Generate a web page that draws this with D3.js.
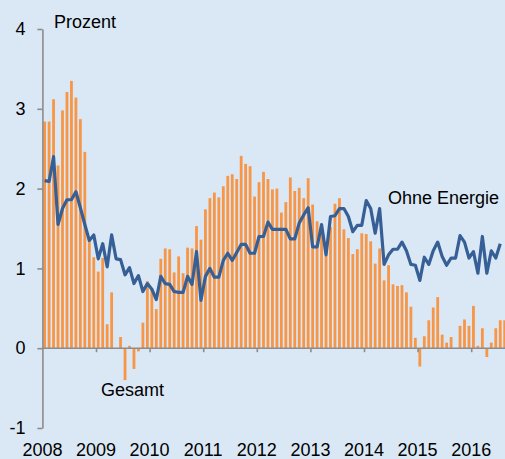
<!DOCTYPE html>
<html>
<head>
<meta charset="utf-8">
<script src="https://cdn.jsdelivr.net/npm/d3@7"></script>
<style>
  html, body { margin: 0; padding: 0; background: #dae8f5; }
  svg { display: block; font-family: "Liberation Sans", Arial, sans-serif; }
</style>
</head>
<body>
<svg id="chart" width="505" height="459"></svg>
<script>
// Monthly data, Jan 2008 onwards (year-on-year change, percent)
const startYear = 2008;
const gesamt = [
  2.84, 2.84, 3.12, 2.29, 2.98, 3.21, 3.35, 3.14, 2.87, 2.46, 1.39, 1.14,
  0.96, 1.13, 0.30, 0.70, 0.00, 0.14, -0.40, 0.03, -0.26, -0.04, 0.32, 0.84,
  0.75, 0.49, 1.12, 1.25, 1.24, 0.95, 1.15, 0.94, 1.26, 1.25, 1.53, 1.36,
  1.74, 1.88, 1.95, 1.89, 2.03, 2.16, 2.18, 2.12, 2.41, 2.31, 2.28, 1.90,
  2.08, 2.21, 2.12, 1.99, 2.00, 1.70, 1.83, 2.14, 1.97, 2.01, 1.88, 2.13,
  1.80, 1.59, 1.55, 1.16, 1.52, 1.81, 1.88, 1.49, 1.38, 1.18, 1.24, 1.44,
  1.43, 1.34, 1.06, 1.25, 0.85, 1.04, 0.80, 0.78, 0.79, 0.70, 0.52, 0.13,
  -0.23, 0.15, 0.35, 0.51, 0.64, 0.17, 0.07, 0.14, -0.01, 0.28, 0.36, 0.28,
  0.53, 0.03, 0.25, -0.11, 0.07, 0.25, 0.35, 0.35
];
const ohneEnergie = [
  2.10, 2.09, 2.40, 1.55, 1.75, 1.86, 1.86, 1.96, 1.76, 1.55, 1.35, 1.42,
  1.12, 1.31, 1.02, 1.42, 1.12, 1.11, 0.92, 1.01, 0.81, 0.91, 0.71, 0.81,
  0.74, 0.61, 0.90, 0.81, 0.80, 0.71, 0.70, 0.70, 0.90, 0.80, 1.21, 0.60,
  0.90, 1.00, 0.89, 0.89, 1.10, 1.19, 1.10, 1.20, 1.30, 1.30, 1.19, 1.19,
  1.40, 1.40, 1.58, 1.49, 1.49, 1.49, 1.49, 1.37, 1.37, 1.57, 1.67, 1.76,
  1.27, 1.27, 1.55, 1.17, 1.65, 1.66, 1.75, 1.75, 1.65, 1.46, 1.54, 1.54,
  1.85, 1.75, 1.44, 1.75, 1.05, 1.17, 1.24, 1.24, 1.33, 1.22, 1.05, 1.04,
  0.85, 1.14, 1.05, 1.22, 1.33, 1.15, 1.04, 1.13, 1.13, 1.41, 1.33, 1.13,
  1.21, 0.94, 1.40, 0.94, 1.22, 1.13, 1.31
];
const yTicks = [-1, 0, 1, 2, 3, 4];
const yearLabels = ["2008", "2009", "2010", "2011", "2012", "2013", "2014", "2015", "2016"];

const svg = d3.select("#chart");
const x = d3.scaleLinear().domain([2008, 2016 + 8 / 12]).range([42.4, 42.4 + (8 + 8 / 12) * 53.6]);
const y = d3.scaleLinear().domain([-1, 4]).range([428, 29]);
const mid = i => startYear + (i + 0.5) / 12;
const barW = 2.8;

// bars
svg.append("g").selectAll("rect").data(gesamt).join("rect")
  .attr("x", (d, i) => x(mid(i)) - barW / 2)
  .attr("width", barW)
  .attr("y", d => y(Math.max(0, d)))
  .attr("height", d => Math.abs(y(d) - y(0)))
  .attr("fill", "#f79646");

// x axis at zero
const xAxis = d3.axisBottom(x)
  .tickValues(d3.range(2009, 2017))
  .tickSize(4).tickSizeOuter(0).tickFormat("");
const gx = svg.append("g").attr("transform", `translate(0,${y(0)})`).call(xAxis);
gx.select(".domain").attr("stroke", "#8c8c8c").attr("stroke-width", 1.6).attr("d", `M${x(2008)},0H505`);
gx.selectAll(".tick line").attr("stroke", "#8c8c8c").attr("stroke-width", 1.6);

// year labels
svg.append("g").selectAll("text").data(yearLabels).join("text")
  .attr("x", d => x(+d))
  .attr("y", 456)
  .attr("text-anchor", "middle")
  .attr("font-size", 18)
  .attr("fill", "#000")
  .text(d => d);

// line
const line = d3.line().x((d, i) => x(mid(i))).y(d => y(d));
svg.append("path").datum(ohneEnergie)
  .attr("d", line)
  .attr("fill", "none")
  .attr("stroke", "#365f96")
  .attr("stroke-width", 3.2)
  .attr("stroke-linejoin", "round");

// y axis
const yAxis = d3.axisLeft(y).tickValues(yTicks).tickSize(5).tickSizeOuter(0).tickPadding(12)
  .tickFormat(d => String(d));
const gy = svg.append("g").attr("transform", `translate(${x(2008)},0)`).call(yAxis);
gy.select(".domain").attr("stroke", "#8c8c8c").attr("stroke-width", 1.6);
gy.selectAll(".tick line").attr("stroke", "#8c8c8c").attr("stroke-width", 1.6);
gy.selectAll(".tick text").attr("font-size", 18).attr("fill", "#000")
  .attr("font-family", "'Liberation Sans', Arial, sans-serif");

// annotations
const ann = [
  { t: "Prozent", x: 54, y: 28 },
  { t: "Gesamt", x: 101, y: 396 },
  { t: "Ohne Energie", x: 388, y: 204 }
];
svg.append("g").selectAll("text").data(ann).join("text")
  .attr("x", d => d.x).attr("y", d => d.y)
  .attr("font-size", 18).attr("fill", "#000")
  .text(d => d.t);
</script>
</body>
</html>
